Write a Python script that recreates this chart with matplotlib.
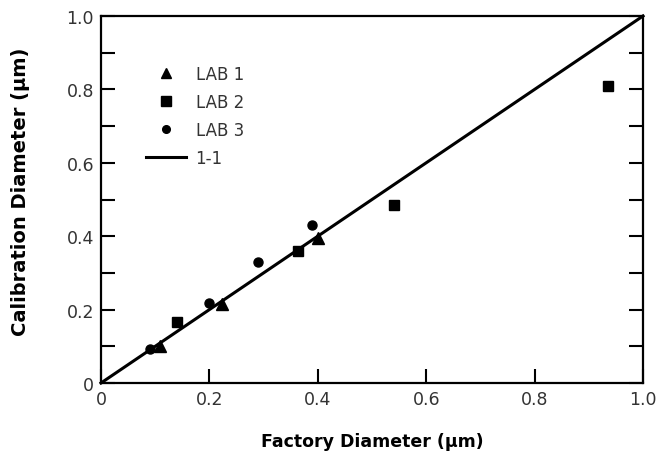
import matplotlib
matplotlib.use("Agg")
import matplotlib.pyplot as plt
from matplotlib.ticker import MultipleLocator, FuncFormatter
from matplotlib.lines import Line2D

lab1_x = [0.109, 0.223, 0.401]
lab1_y = [0.102, 0.215, 0.395]
lab2_x = [0.141, 0.364, 0.541, 0.936]
lab2_y = [0.167, 0.359, 0.485, 0.808]
lab3_x = [0.090, 0.200, 0.290, 0.389]
lab3_y = [0.093, 0.217, 0.331, 0.431]
line_x = [0.0, 1.0]
line_y = [0.0, 1.0]
labels = ["LAB 1", "LAB 2", "LAB 3", "1-1"]

plt.rcParams['font.family'] = ['DejaVu Sans']
fig = plt.figure(figsize=(6.58, 4.60), dpi=100)
ax = fig.add_axes([101/658, 76/460, 542/658, 367/460])

ax.plot(line_x, line_y, color='black', lw=2.2, zorder=2, clip_on=False)
ax.plot(lab1_x, lab1_y, '^', color='black', ms=8, zorder=3, clip_on=False)
ax.plot(lab2_x, lab2_y, 's', color='black', ms=7.5, zorder=3, clip_on=False)
ax.plot(lab3_x, lab3_y, 'o', color='black', ms=6.5, zorder=3, clip_on=False)

ax.set_xlim(0, 1)
ax.set_ylim(0, 1)
for s in ax.spines.values():
    s.set_linewidth(1.6)

ax.xaxis.set_major_locator(MultipleLocator(0.2))
ax.yaxis.set_major_locator(MultipleLocator(0.2))
ax.yaxis.set_minor_locator(MultipleLocator(0.1))
fmt = FuncFormatter(lambda v, p: "0" if abs(v) < 1e-9 else f"{v:.1f}")
ax.xaxis.set_major_formatter(fmt)
ax.yaxis.set_major_formatter(fmt)
ax.tick_params(axis='x', which='major', direction='in', length=10, width=1.5,
               labelsize=12.5, colors='black', pad=5, top=False)
ax.tick_params(axis='y', which='both', direction='in', length=10, width=1.5,
               labelsize=12.5, colors='black', pad=5, right=True)
ax.tick_params(axis='y', which='minor', length=10)
for t in ax.get_xticklabels() + ax.get_yticklabels():
    t.set_color('#333333')

ax.set_xlabel("Factory Diameter (µm)", fontsize=12.5, fontweight='bold', labelpad=17)
ax.set_ylabel("Calibration Diameter (µm)", fontsize=14, fontweight='bold', labelpad=26)
ax.yaxis.label.set_y(0.525)

handles = [
    Line2D([], [], marker='^', ls='none', color='black', ms=7),
    Line2D([], [], marker='s', ls='none', color='black', ms=6.5),
    Line2D([], [], marker='o', ls='none', color='black', ms=5.5),
    Line2D([], [], color='black', lw=2.2),
]
leg = ax.legend(handles, labels, loc='upper left', bbox_to_anchor=(0.07, 0.885),
                frameon=False, fontsize=12, handlelength=2.4, handletextpad=0.6,
                labelspacing=0.6, borderaxespad=0)
for t in leg.get_texts():
    t.set_color('#333333')

fig.savefig("out.png", dpi=100)
